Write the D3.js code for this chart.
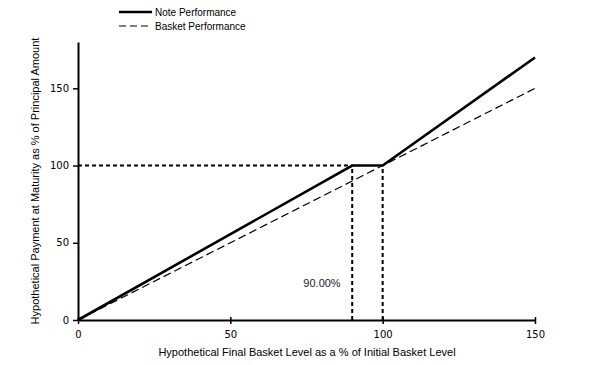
<!DOCTYPE html>
<html><head><meta charset="utf-8">
<script src="https://cdn.jsdelivr.net/npm/d3@7/dist/d3.min.js"></script>
<style>body{margin:0;background:#fff}svg{display:block}</style>
</head><body>
<svg id="c" width="605" height="365"></svg>
<script>
const xTicks = [0, 50, 100, 150];
const yTicks = [0, 50, 100, 150];
const noteX = [0, 90, 100, 150];
const noteY = [0, 100, 100, 170];
const basketX = [0, 150];
const basketY = [0, 150];
const barrier = 90;
const barrierLevel = 100;
const initialLevel = 100;
const barrierLabel = "90.00%";
const seriesNames = ["Note Performance", "Basket Performance"];

const svg = d3.select("#c");
const x = d3.scaleLinear().domain([0, 150]).range([78, 535]);
const y = d3.scaleLinear().domain([0, 180]).range([320, 42]);
const line = d3.line().x(d => x(d[0])).y(d => y(d[1]));

// reference dashed lines
const refs = [
  [[0, barrierLevel], [barrier, barrierLevel]],
  [[barrier, 0], [barrier, barrierLevel]],
  [[initialLevel, 0], [initialLevel, barrierLevel]]
];
svg.selectAll(".ref").data(refs).join("path")
  .attr("d", line).attr("fill", "none").attr("stroke", "#000")
  .attr("stroke-width", 2).attr("stroke-dasharray", "4,3");

// basket
svg.append("path").datum(basketX.map((v, i) => [v, basketY[i]]))
  .attr("d", line).attr("fill", "none").attr("stroke", "#000")
  .attr("stroke-width", 1.2).attr("stroke-dasharray", "8,4");
// note
svg.append("path").datum(noteX.map((v, i) => [v, noteY[i]]))
  .attr("d", line).attr("fill", "none").attr("stroke", "#000")
  .attr("stroke-width", 2.6).attr("stroke-linejoin", "miter");

// axes
const xa = svg.append("g").attr("transform", `translate(0,${y(0)})`)
  .call(d3.axisBottom(x).tickValues(xTicks).tickSize(4).tickSizeOuter(0));
xa.select(".domain").attr("stroke-width", 2);
xa.selectAll(".tick line").attr("y1", -3).attr("y2", 4).attr("stroke-width", 1.5);
xa.selectAll("text").attr("font-family", "DejaVu Sans").attr("font-size", 10).attr("dy", "1.1em").attr("fill", "#000");

const ya = svg.append("g").attr("transform", `translate(${x(0)},0)`)
  .call(d3.axisLeft(y).tickValues(yTicks).tickSize(5).tickSizeOuter(0));
ya.select(".domain").attr("stroke-width", 2);
ya.selectAll(".tick line").attr("stroke-width", 1.5);
ya.selectAll("text").attr("font-family", "DejaVu Sans").attr("font-size", 10).attr("x", -9).attr("fill", "#000");

// titles
svg.append("text").attr("x", 307).attr("y", 356).attr("text-anchor", "middle")
  .attr("font-family", "Liberation Sans, Arial").attr("font-size", 11)
  .text("Hypothetical Final Basket Level as a % of Initial Basket Level");
svg.append("text").attr("transform", "translate(39,181) rotate(-90)").attr("text-anchor", "middle")
  .attr("font-family", "Liberation Sans, Arial").attr("font-size", 11)
  .text("Hypothetical Payment at Maturity as % of Principal Amount");

svg.append("text").attr("x", 322).attr("y", 287).attr("text-anchor", "middle")
  .attr("font-family", "Liberation Sans, Arial").attr("font-size", 11).attr("fill", "#222")
  .text(barrierLabel);

// legend
const lg = svg.append("g");
seriesNames.forEach((n, i) => {
  const yy = 12 + i * 14;
  lg.append("line").attr("x1", 119).attr("x2", 152).attr("y1", yy).attr("y2", yy)
    .attr("stroke", "#000").attr("stroke-width", i === 0 ? 2.6 : 1.2)
    .attr("stroke-dasharray", i === 0 ? null : "7,4");
  lg.append("text").attr("x", 155).attr("y", yy + 4)
    .attr("font-family", "Liberation Sans, Arial").attr("font-size", 10).text(n);
});
</script>
</body></html>
